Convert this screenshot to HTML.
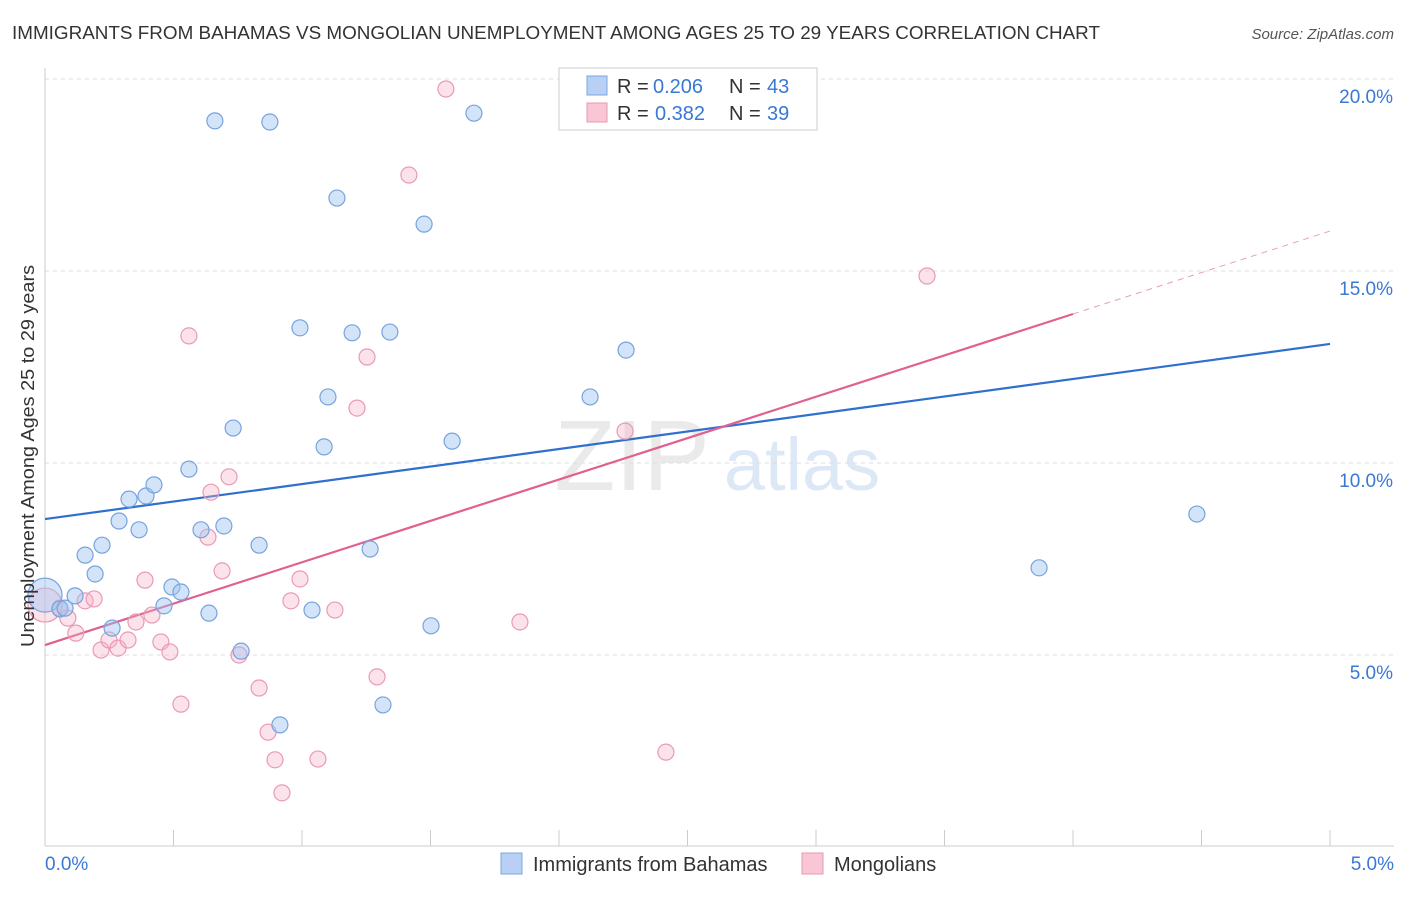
<!DOCTYPE html>
<html><head><meta charset="utf-8">
<style>
body{margin:0;background:#fff;font-family:"Liberation Sans",sans-serif;}
svg text{font-family:"Liberation Sans",sans-serif;}
</style></head>
<body>
<svg id="chart" width="1406" height="892" viewBox="0 0 1406 892" xmlns="http://www.w3.org/2000/svg">
<text x="12" y="39" font-size="18" fill="#333" textLength="1088" lengthAdjust="spacingAndGlyphs">IMMIGRANTS FROM BAHAMAS VS MONGOLIAN UNEMPLOYMENT AMONG AGES 25 TO 29 YEARS CORRELATION CHART</text>
<text x="1394" y="39" font-size="15" fill="#555" text-anchor="end" font-style="italic">Source: ZipAtlas.com</text>
<g>
<text x="632" y="490" font-size="100" fill="#ddd" text-anchor="middle" font-family="Liberation Serif" opacity="0.6">ZIP</text>
<text x="802" y="490" font-size="74" fill="#c8daf2" text-anchor="middle" opacity="0.6">atlas</text>
</g>
<g id="grid"></g>
<g id="axes"></g>
<g id="lines"></g>
<g id="points"></g>
<text transform="translate(34,456) rotate(-90)" font-size="18" fill="#333" text-anchor="middle" textLength="382" lengthAdjust="spacingAndGlyphs">Unemployment Among Ages 25 to 29 years</text>
<g>
<rect x="559" y="68" width="258" height="62" fill="#fff" stroke="#ccc"/>
<rect x="587" y="76" width="20" height="19" fill="#b8d0f4" stroke="#7aa7e0"/>
<text x="617" y="93" font-size="20" fill="#333">R =</text>
<text x="653" y="93" font-size="20" fill="#3a78d4">0.206</text>
<text x="729" y="93" font-size="20" fill="#333">N =</text>
<text x="767" y="93" font-size="20" fill="#3a78d4">43</text>
<rect x="587" y="103" width="20" height="19" fill="#f9c6d5" stroke="#e89ab3"/>
<text x="617" y="120" font-size="20" fill="#333">R =</text>
<text x="655" y="120" font-size="20" fill="#3a78d4">0.382</text>
<text x="729" y="120" font-size="20" fill="#333">N =</text>
<text x="767" y="120" font-size="20" fill="#3a78d4">39</text>
</g>
<g>
<rect x="501" y="853" width="21" height="21" fill="#b8d0f4" stroke="#7aa7e0"/>
<text x="533" y="871" font-size="20" fill="#333">Immigrants from Bahamas</text>
<rect x="802" y="853" width="21" height="21" fill="#f9c6d5" stroke="#e89ab3"/>
<text x="834" y="871" font-size="20" fill="#333">Mongolians</text>
</g>
</svg>
<script>
const xTicks=[0,0.5,1,1.5,2,2.5,3,3.5,4,4.5,5];
const yTicks=[5,10,15,20];
const yTickLabels=["5.0%","10.0%","15.0%","20.0%"];
const xEndLabels=["0.0%","5.0%"];
const blueX=[0,.058,.117,.156,.195,.222,.261,.288,.327,.366,.393,.424,.463,.494,.529,.560,.607,.638,.661,.696,.732,.763,.833,.875,.914,.992,1.039,1.086,1.101,1.136,1.195,1.265,1.315,1.342,1.475,1.502,1.584,1.669,2.121,2.261,3.868,4.482,.078];
const blueY=[6.56,6.2,6.54,7.6,7.11,7.86,5.7,8.49,9.06,8.26,9.14,9.43,6.28,6.77,6.64,9.84,8.26,6.09,18.91,8.36,10.91,5.10,7.86,18.88,3.18,13.52,6.17,10.42,11.72,16.9,13.39,7.76,3.70,13.41,16.22,5.76,10.57,19.11,11.72,12.94,7.27,8.67,6.22];
const pinkX=[0,.089,.12,.156,.191,.218,.249,.284,.323,.354,.389,.416,.451,.486,.529,.560,.634,.646,.689,.716,.755,.833,.868,.895,.922,.957,.992,1.062,1.128,1.214,1.253,1.292,1.416,1.560,1.848,2.257,2.416,3.432,.058];
const pinkY=[6.30,5.96,5.57,6.41,6.46,5.13,5.39,5.18,5.39,5.86,6.95,6.04,5.34,5.08,3.72,13.31,8.07,9.24,7.19,9.64,5.0,4.14,2.99,2.27,1.41,6.41,6.98,2.29,6.17,11.43,12.76,4.43,17.5,19.74,5.86,10.83,2.47,14.87,6.22];
const blueLine=[[0,8.54],[5,13.1]];
const pinkLine=[[0,5.26],[4,13.88]];
const pinkDash=[[4,13.88],[5,16.04]];

const NS="http://www.w3.org/2000/svg";
const sx=v=>45+v*257;
const sy=v=>847-v*38.4;
function mk(tag,attrs,parent){const e=document.createElementNS(NS,tag);for(const k in attrs)e.setAttribute(k,attrs[k]);document.getElementById(parent).appendChild(e);return e;}
yTicks.forEach((t,i)=>{
  const g=mk('line',{x1:45,x2:1394,y1:sy(t),y2:sy(t),stroke:'#ddd','stroke-dasharray':'4,4'},'grid');
  
  
  const l=mk('text',{x:1393,y:sy(t)+24,'font-size':19,fill:'#3a78d4','text-anchor':'end'},'axes');
  l.textContent=yTickLabels[i];
  
  
});
const ya=mk('line',{x1:45,x2:45,y1:68,y2:846,stroke:'#ccc'},'axes');


const xa=mk('line',{x1:45,x2:1394,y1:846,y2:846,stroke:'#ccc'},'axes');


xTicks.forEach(t=>{
  const tk=mk('line',{x1:sx(t),x2:sx(t),y1:830,y2:846,stroke:'#ccc'},'axes');
  
  
});
[[0,'start',45],[5,'end',1394]].forEach((d,i)=>{
  const l=mk('text',{x:d[2],y:870,'font-size':19,fill:'#3a78d4','text-anchor':d[1]},'axes');
  l.textContent=xEndLabels[i];
  
  
});
function pts(X,Y,fill,stroke,name){
  X.forEach((x,i)=>{
    const c=mk('circle',{cx:sx(x),cy:sy(Y[i]),r:(i===0?17:8),fill:fill,stroke:stroke,'stroke-width':1.2},'points');
    
    
  });
}
pts(pinkX,pinkY,'rgba(246,176,198,0.35)','#e99ab4','mongolians-point');
pts(blueX,blueY,'rgba(160,196,240,0.45)','#76a3de','bahamas-point');
const bl=mk('line',{x1:sx(blueLine[0][0]),y1:sy(blueLine[0][1]),x2:sx(blueLine[1][0]),y2:sy(blueLine[1][1]),stroke:'#2f6fd0','stroke-width':2.2},'lines');


const pl=mk('line',{x1:sx(pinkLine[0][0]),y1:sy(pinkLine[0][1]),x2:sx(pinkLine[1][0]),y2:sy(pinkLine[1][1]),stroke:'#e0608f','stroke-width':2.2},'lines');


const pd=mk('line',{x1:sx(pinkDash[0][0]),y1:sy(pinkDash[0][1]),x2:sx(pinkDash[1][0]),y2:sy(pinkDash[1][1]),stroke:'#e8a0b8','stroke-width':1,'stroke-dasharray':'6,5'},'lines');


</script>
</body></html>
